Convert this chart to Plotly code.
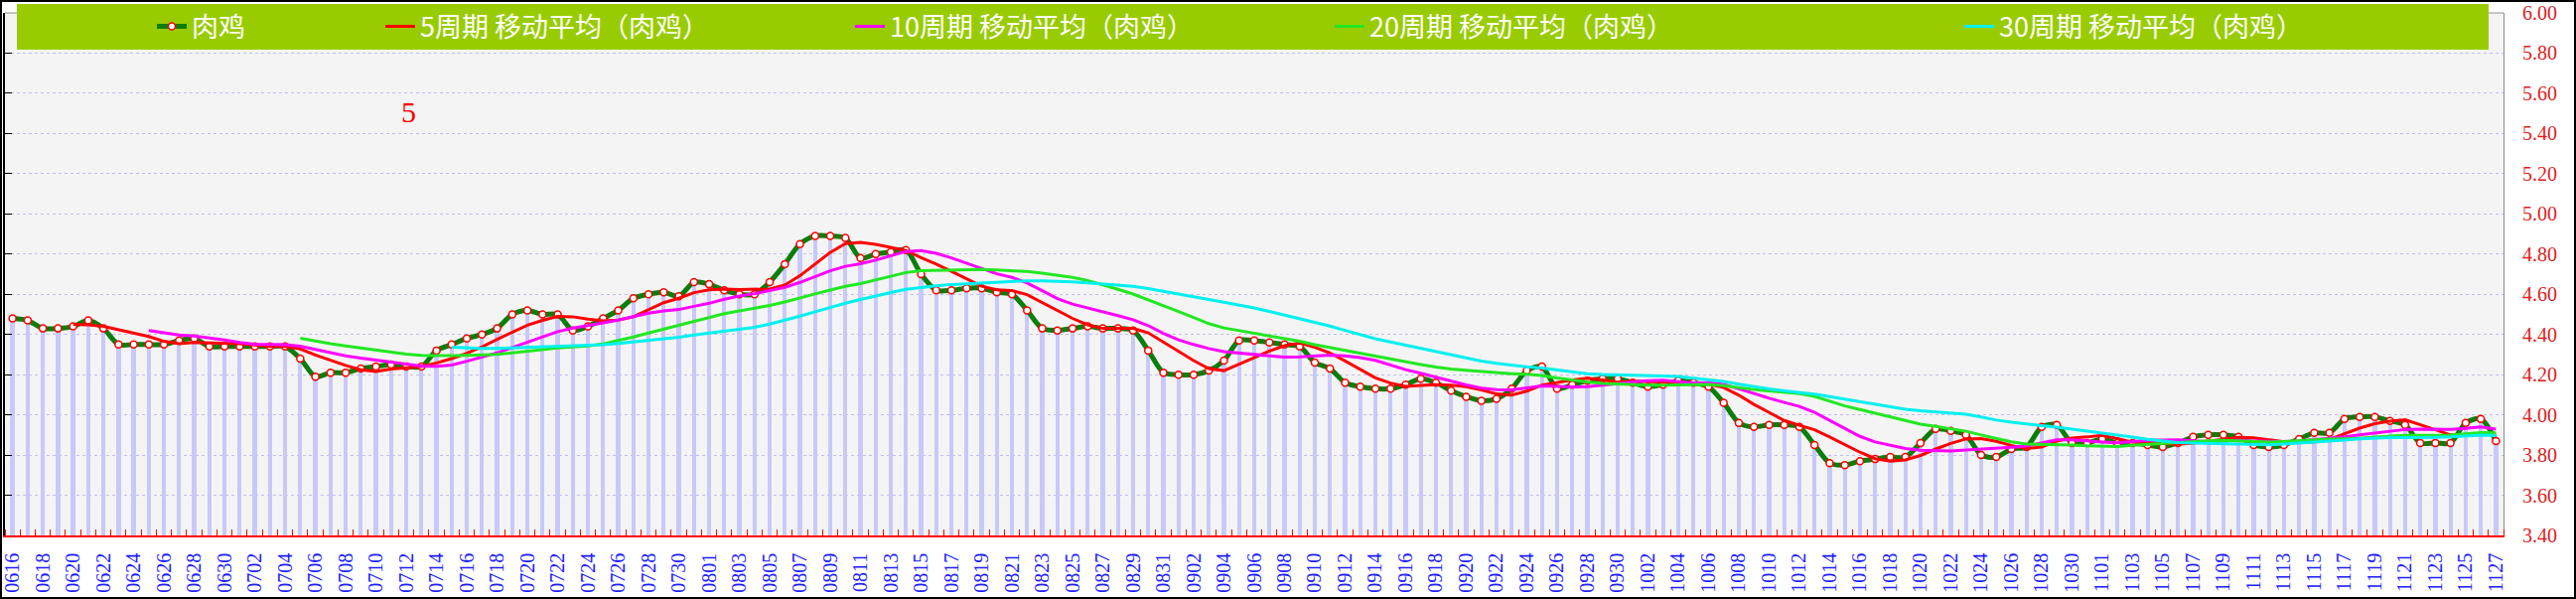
import pandas as pd
import plotly.graph_objects as go

# daily dates (MMDD) shown on the category axis
dates = [
    "0616", "0617", "0618", "0619", "0620", "0621", "0622", "0623", "0624", "0625",
    "0626", "0627", "0628", "0629", "0630",
    "0701", "0702", "0703", "0704", "0705", "0706", "0707", "0708", "0709", "0710",
    "0711", "0712", "0713", "0714", "0715", "0716", "0717", "0718", "0719", "0720",
    "0721", "0722", "0723", "0724", "0725", "0726", "0727", "0728", "0729", "0730", "0731",
    "0801", "0802", "0803", "0804", "0805", "0806", "0807", "0808", "0809", "0810",
    "0811", "0812", "0813", "0814", "0815", "0816", "0817", "0818", "0819", "0820",
    "0821", "0822", "0823", "0824", "0825", "0826", "0827", "0828", "0829", "0830", "0831",
    "0901", "0902", "0903", "0904", "0905", "0906", "0907", "0908", "0909", "0910",
    "0911", "0912", "0913", "0914", "0915", "0916", "0917", "0918", "0919", "0920",
    "0921", "0922", "0923", "0924", "0925", "0926", "0927", "0928", "0929", "0930",
    "1001", "1002", "1003", "1004", "1005", "1006", "1007", "1008", "1009", "1010",
    "1011", "1012", "1013", "1014", "1015", "1016", "1017", "1018", "1019", "1020",
    "1021", "1022", "1023", "1024", "1025", "1026", "1027", "1028", "1029", "1030", "1031",
    "1101", "1102", "1103", "1104", "1105", "1106", "1107", "1108", "1109", "1110",
    "1111", "1112", "1113", "1114", "1115", "1116", "1117", "1118", "1119", "1120",
    "1121", "1122", "1123", "1124", "1125", "1126", "1127",
]

# 肉鸡 price
chicken = [
    4.48, 4.47, 4.43, 4.43, 4.44, 4.47, 4.43, 4.35, 4.35, 4.35,
    4.35, 4.37, 4.38, 4.34, 4.34,
    4.34, 4.34, 4.34, 4.34, 4.28, 4.19, 4.21, 4.21, 4.23, 4.24,
    4.25, 4.24, 4.24, 4.32, 4.35, 4.38, 4.40, 4.43, 4.50, 4.52,
    4.50, 4.50, 4.42, 4.44, 4.48, 4.52, 4.58, 4.60, 4.61, 4.59, 4.66,
    4.65, 4.62, 4.60, 4.60, 4.66, 4.75, 4.85, 4.89, 4.89, 4.88,
    4.78, 4.80, 4.81, 4.82, 4.70, 4.62, 4.62, 4.63, 4.63, 4.61,
    4.60, 4.52, 4.43, 4.42, 4.43, 4.44, 4.43, 4.43, 4.42, 4.32, 4.21,
    4.20, 4.20, 4.22, 4.27, 4.37, 4.37, 4.36, 4.35, 4.34, 4.26,
    4.23, 4.16, 4.14, 4.13, 4.13, 4.15, 4.18, 4.16, 4.12, 4.09,
    4.07, 4.08, 4.13, 4.22, 4.24, 4.13, 4.15, 4.17, 4.18, 4.18,
    4.16, 4.14, 4.15, 4.17, 4.16, 4.14, 4.06, 3.96, 3.94, 3.95,
    3.95, 3.94, 3.85, 3.76, 3.75, 3.77, 3.78, 3.79, 3.79, 3.86,
    3.93, 3.92, 3.90, 3.80, 3.79, 3.83, 3.84, 3.94, 3.95, 3.86, 3.86,
    3.88, 3.86, 3.86, 3.85, 3.84, 3.86, 3.89, 3.90, 3.90, 3.89,
    3.85, 3.84, 3.85, 3.88, 3.91, 3.91, 3.98, 3.99, 3.99, 3.97,
    3.95, 3.86, 3.86, 3.86, 3.96, 3.98, 3.87,
]

ma_periods = [5, 10, 20, 30]
ma_colors = ["#FF0000", "#FF00FF", "#22E822", "#00F0F0"]
y_ticks = [3.4 + 0.2 * i for i in range(14)]

W, H = 2594, 603
L, R, T, B = 5, 73, 13, 64
PW = W - L - R
PH = H - T - B


def px_x(px):
    return (px - L) / PW


def px_y(py):
    return (H - B - py) / PH


xs = list(range(len(dates)))
s = pd.Series(chicken)

fig = go.Figure()

fig.add_trace(go.Bar(x=xs, y=chicken, width=0.28, marker=dict(color="#C8C8FA", line_width=0),
                     showlegend=False, hoverinfo="skip"))

fig.add_trace(go.Scatter(x=xs, y=chicken, mode="lines+markers", name="肉鸡",
                         line=dict(color="#0A7D0A", width=5, shape="spline", smoothing=0.8),
                         marker=dict(symbol="circle", size=7, color="white",
                                     line=dict(color="#FF0000", width=1.5)),
                         legend="legend"))

for i, (n, c) in enumerate(zip(ma_periods, ma_colors)):
    ma = s.rolling(n).mean().round(4)
    fig.add_trace(go.Scatter(x=xs, y=ma, mode="lines", name=f"{n}周期 移动平均（肉鸡）",
                             line=dict(color=c, width=3), legend=f"legend{i + 2}"))

# helper trace so the right-hand label axis is drawn
fig.add_trace(go.Scatter(x=[0], y=[3.4], yaxis="y2", mode="markers", marker_opacity=0,
                         showlegend=False, hoverinfo="skip"))

# where each legend entry's text starts (px)
legend_text_px = [195, 425, 898, 1381, 2015]
legend_style = dict(orientation="h", xanchor="left", yanchor="middle", y=px_y(27),
                    bgcolor="rgba(0,0,0,0)", borderwidth=0,
                    font=dict(family="Noto Sans CJK SC", size=27, color="white"))
layout_legends = {}
for i, lx in enumerate(legend_text_px):
    key = "legend" if i == 0 else f"legend{i + 1}"
    layout_legends[key] = dict(legend_style, x=px_x(lx - 42))

fig.update_layout(
    width=W, height=H,
    margin=dict(l=L, r=R, t=T, b=B, autoexpand=False),
    paper_bgcolor="white",
    plot_bgcolor="#F5F4F4",
    bargap=0,
    showlegend=True,
    xaxis=dict(
        range=[-0.5, len(dates) - 0.5], automargin=False,
        tickmode="array", tickvals=xs[::2], ticktext=dates[::2],
        tickangle=-90, ticks="", ticklabelstandoff=8, ticklabeloverflow="allow",
        tickfont=dict(family="Liberation Serif", size=20, color="#2020FF"),
        showgrid=False, zeroline=False,
        showline=True, linecolor="#FF0000", linewidth=1.5,
        minor=dict(tickmode="linear", tick0=-0.5, dtick=1, ticks="inside",
                   ticklen=6, tickcolor="#FF0000", tickwidth=1, showgrid=False),
    ),
    yaxis=dict(
        range=[3.4, 6.0], tickmode="array", tickvals=y_ticks, automargin=False,
        side="left", showticklabels=False, ticks="inside", ticklen=7,
        tickcolor="black", showline=True, linecolor="black", linewidth=1.5,
        showgrid=True, gridcolor="#BDBDF5", griddash="dot", gridwidth=1, zeroline=False,
    ),
    yaxis2=dict(
        range=[3.4, 6.0], overlaying="y", side="right", anchor="x", automargin=False,
        tickmode="array", tickvals=y_ticks, ticktext=[f"{v:.2f}" for v in y_ticks],
        ticks="", ticklabelstandoff=14, ticklabeloverflow="allow",
        showgrid=False, zeroline=False,
        showline=True, linecolor="#8C8C8C", linewidth=1,
        tickfont=dict(family="Liberation Serif", size=20, color="#E02020"),
    ),
    **layout_legends,
)

# plot-area top border, legend band and outer frame
fig.add_shape(type="line", xref="paper", yref="paper", x0=0, x1=1, y0=1, y1=1,
              line=dict(color="#8C8C8C", width=1))
fig.add_shape(type="rect", xref="paper", yref="paper", layer="above",
              x0=px_x(17), x1=px_x(2506), y0=px_y(50), y1=px_y(4),
              fillcolor="#99CC00", line_width=0)
fig.add_shape(type="rect", xref="paper", yref="paper", layer="above",
              x0=px_x(1), x1=px_x(W - 1), y0=px_y(H - 1), y1=px_y(1),
              line=dict(color="black", width=2))

fig.add_annotation(text="5", xref="paper", yref="paper", x=px_x(402), y=px_y(94),
                   showarrow=False, font=dict(family="Liberation Serif", size=30, color="#FF0000"))

# drop the page's default body margin so the figure fills the window
fig.write_html("out.html", config={"displayModeBar": False},
               post_script="document.body.style.margin='0';")
